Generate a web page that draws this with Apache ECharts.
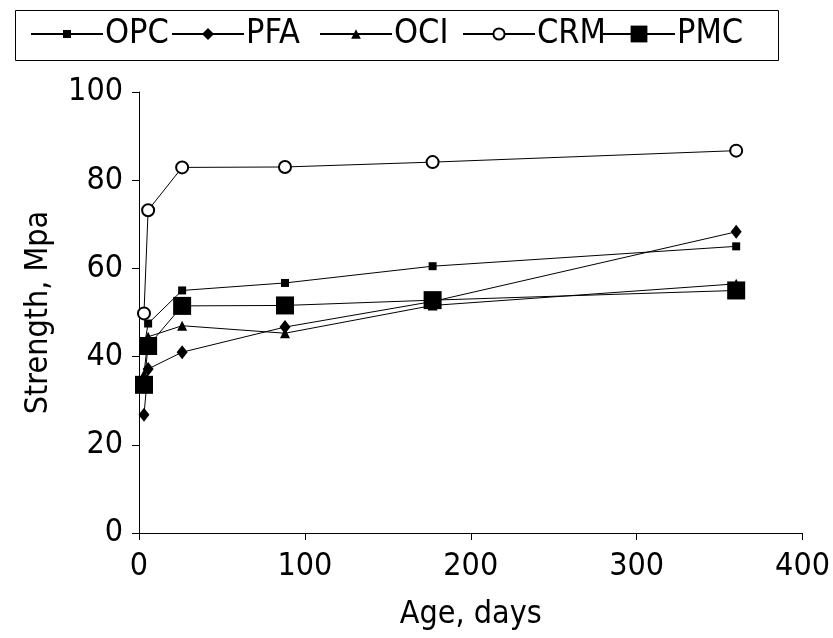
<!DOCTYPE html>
<html><head><meta charset="utf-8">
<script src="https://cdn.jsdelivr.net/npm/echarts@6/dist/echarts.min.js"></script>
<style>html,body{margin:0;padding:0;background:#fff}#c{width:833px;height:638px}</style>
</head><body><div id="c"></div>
<script>
// Data
const ages = [3, 5.5, 26, 88, 177, 360];
const seriesNames = ['OPC', 'PFA', 'OCI', 'CRM', 'PMC'];
const OPC = [42, 47.5, 55, 56.7, 60.5, 65];
const PFA = [26.8, 37.2, 41, 46.7, 52.5, 68.3];
const OCI = [36, 44.5, 47, 45.3, 51.6, 56.5];
const CRM = [49.8, 73.2, 82.9, 83, 84.1, 86.7];
const PMC = [33.6, 42.4, 51.5, 51.6, 52.8, 55];
const xTicks = [0, 100, 200, 300, 400];
const yTicks = [0, 20, 40, 60, 80, 100];

const FONT = '"DejaVu Sans Condensed", "Liberation Sans Narrow", "Liberation Sans", sans-serif';
const FS = 32;
const valuesByName = {OPC, PFA, OCI, CRM, PMC};
const sym = {
  OPC: {symbol: 'rect', size: 8, lh: 10},
  PFA: {symbol: 'diamond', size: [11, 14], lh: 15},
  OCI: {symbol: 'triangle', size: [10, 10], lh: 12},
  CRM: {symbol: 'emptyCircle', size: 12, lh: 14},
  PMC: {symbol: 'rect', size: 18, lh: 21}
};
const legendLeft = [30, 171, 319, 462, 602];

const series = seriesNames.map(n => ({
  name: n, type: 'line',
  data: ages.map((a, i) => [a, valuesByName[n][i]]),
  symbol: sym[n].symbol, symbolSize: sym[n].size,
  lineStyle: {color: '#000', width: 1},
  itemStyle: {color: '#000', borderColor: '#000', borderWidth: n === 'CRM' ? 1 : 0},
  showSymbol: true, animation: false, z: 2
}));

const legends = seriesNames.map((n, i) => ({
  data: [n], left: legendLeft[i], top: 17,
  padding: 0, itemWidth: 72, itemHeight: sym[n].lh, itemGap: 0,
  textStyle: {fontFamily: FONT, fontSize: 34, color: '#000', padding: [0, 0, 0, -3]},
  inactiveColor: '#000', selectedMode: false
}));

const chart = echarts.init(document.getElementById('c'), null, {renderer: 'canvas'});
chart.setOption({
  backgroundColor: '#fff',
  animation: false,
  legend: legends,
  graphic: [{
    type: 'rect', left: 13, top: 8, z: 0,
    shape: {width: 763, height: 50},
    style: {fill: 'none', stroke: '#000', lineWidth: 1}
  }],
  grid: {left: 139, right: 30, top: 92, bottom: 105},
  xAxis: {
    type: 'value', min: xTicks[0], max: xTicks[xTicks.length - 1], interval: 100,
    name: 'Age, days', nameLocation: 'middle', nameGap: 66,
    nameTextStyle: {fontFamily: FONT, fontSize: FS, color: '#000'},
    axisLine: {lineStyle: {color: '#000', width: 1}},
    axisTick: {show: true, length: 7, lineStyle: {color: '#000'}},
    axisLabel: {fontFamily: FONT, fontSize: FS, color: '#000', margin: 18},
    splitLine: {show: false}
  },
  yAxis: {
    type: 'value', min: yTicks[0], max: yTicks[yTicks.length - 1], interval: 20,
    name: 'Strength, Mpa', nameLocation: 'middle', nameGap: 84, nameRotate: 90,
    nameTextStyle: {fontFamily: FONT, fontSize: FS, color: '#000'},
    axisLine: {show: true, lineStyle: {color: '#000', width: 1}},
    axisTick: {show: true, length: 7, lineStyle: {color: '#000'}},
    axisLabel: {fontFamily: FONT, fontSize: FS, color: '#000', margin: 16},
    splitLine: {show: false}
  },
  series
});
</script></body></html>
